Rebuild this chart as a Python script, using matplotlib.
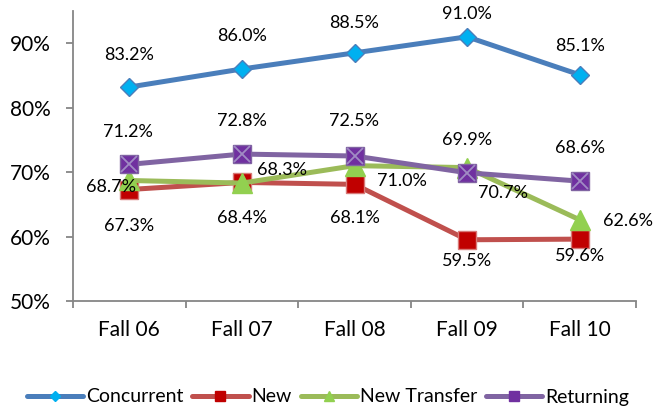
import matplotlib
matplotlib.use('Agg')
import matplotlib.pyplot as plt
from matplotlib.lines import Line2D

plt.rcParams['font.family'] = ['Lato', 'DejaVu Sans']

# data
terms = ['Fall 06', 'Fall 07', 'Fall 08', 'Fall 09', 'Fall 10']
concurrent = [83.2, 86.0, 88.5, 91.0, 85.1]
new = [67.3, 68.4, 68.1, 59.5, 59.6]
new_transfer = [68.7, 68.3, 71.0, 70.7, 62.6]
returning = [71.2, 72.8, 72.5, 69.9, 68.6]
y_ticks = [50, 60, 70, 80, 90]

# label offsets in pixels (dx, dy), up is positive
off_conc = [(0, 32), (0, 33), (0, 30), (0, 23), (0, 29)]
off_new = [(0, -36), (0, -36), (0, -34), (0, -21), (0, -17)]
off_nt = [(-18, -7), (40, 13), (47, -15), (36, -25), (48, -1)]
off_ret = [(-1, 32), (0, 33), (0, 35), (0, 33), (0, 33)]

fig = plt.figure(figsize=(6.54, 4.09), dpi=100)
ax = fig.add_axes([73 / 654, 1 - 301 / 409, (636 - 73) / 654, (301 - 11) / 409])

x = list(range(len(terms)))
lw = 3.6

series = [
    ('Concurrent', concurrent, dict(color='#4A7EBB', marker='D', ms=9.2,
                                    mfc='#00B0F0', mec='#4A7EBB'), off_conc, 5),
    ('New', new, dict(color='#C0504D', marker='s', ms=13,
                      mfc='#C00000', mec='#D77A78'), off_new, 6.5),
    ('New Transfer', new_transfer, dict(color='#9BBB59', marker='^', ms=14,
                                        mfc='#92D050', mec='#92D050'), off_nt, 7),
    ('Returning', returning, dict(color='#8064A2', marker='s', ms=13,
                                  mfc='#7030A0', mec='#8064A2'), off_ret, 6.5),
]

handles = []
for name, vals, st, offs, leg_ms in series:
    ax.plot(x, vals, lw=lw, solid_capstyle='round', zorder=3, **st)
    h = Line2D([], [], lw=lw, color=st['color'], marker=st['marker'],
               ms=leg_ms, mfc=st['mfc'], mec=st['mfc'], solid_capstyle='round')
    if name == 'Returning':
        ax.plot(x, vals, ls='none', marker='x', ms=11, mew=1.3, color='#A08BC4', zorder=4)
    handles.append(h)
    for xi, v, (dx, dy) in zip(x, vals, offs):
        ax.annotate(f'{v:.1f}%', (xi, v), xytext=(dx, dy), textcoords='offset pixels',
                    ha='center', va='center', fontsize=13, color='black', zorder=5)

ax.set_xlim(-0.5, len(terms) - 0.5)
ax.set_ylim(50, 95)
ax.set_yticks(y_ticks)
ax.set_yticklabels([f'{t}%' for t in y_ticks])
ax.set_xticks([i - 0.5 for i in range(len(terms) + 1)])
ax.set_xticklabels([])
ax.set_xticks(x, minor=True)
ax.set_xticklabels(terms, minor=True)

for s in ['top', 'right']:
    ax.spines[s].set_visible(False)
for s in ['left', 'bottom']:
    ax.spines[s].set_color('#868686')
    ax.spines[s].set_linewidth(1.3)
ax.tick_params(axis='y', which='major', length=5, width=1.3, color='#868686',
               labelsize=15, pad=11)
ax.tick_params(axis='x', which='major', length=5, width=1.3, color='#868686')
ax.tick_params(axis='x', which='minor', length=0, labelsize=15, pad=14)

fig.legend(handles, [s[0] for s in series], loc='center', bbox_to_anchor=(328 / 654, 1 - 397 / 409),
           ncol=4, frameon=False, fontsize=14, handlelength=2.9, handletextpad=0.15,
           columnspacing=0.45, borderpad=0)

fig.savefig('out.png', dpi=100)
